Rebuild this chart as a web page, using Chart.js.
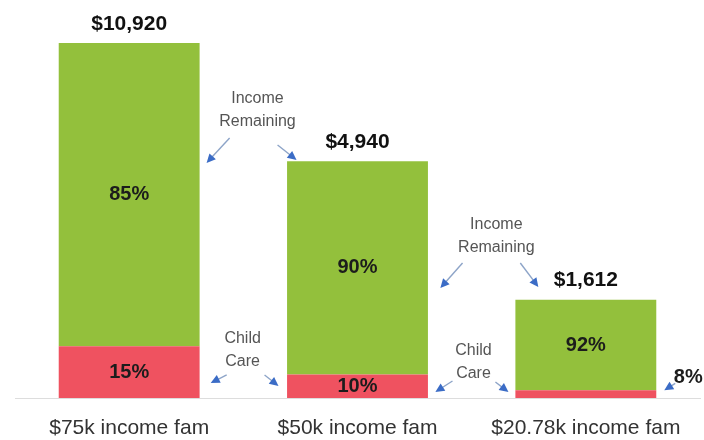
<!DOCTYPE html>
<html>
<head>
<meta charset="utf-8">
<script src="https://cdn.jsdelivr.net/npm/chart.js@4.4.0/dist/chart.umd.min.js"></script>
<style>
  html, body { margin: 0; padding: 0; background: #fff; }
  #wrap { width: 704px; height: 440px; }
</style>
</head>
<body>
<div id="wrap"><canvas id="careChart" width="704" height="440"></canvas></div>
<script>
// families and their yearly money split (dollars)
var families = ['$75k income fam', '$50k income fam', '$20.78k income fam'];
var childCare = [10920, 4940, 1612];
var incomeRemaining = [64080, 45060, 19168];

var GREEN = '#93c03c';
var RED = '#ef5260';
var ARROW = '#3b6cc6';

// callouts, placed in axis units (x = category index, y = dollars)
var callouts = [
    { lines: ['Income', 'Remaining'], x: 0.562, y: 60850,
      arrows: [[0.440, 54940, 0.339, 49650], [0.650, 53460, 0.733, 50290]] },
    { lines: ['Income', 'Remaining'], x: 1.608, y: 34230,
      arrows: [[1.460, 28530, 1.363, 23240], [1.713, 28530, 1.792, 23450]] },
    { lines: ['Child', 'Care'], x: 0.497, y: 10140,
      arrows: [[0.427, 4860, 0.357, 3170], [0.593, 4860, 0.654, 2540]] },
    { lines: ['Child', 'Care'], x: 1.508, y: 7610,
      arrows: [[1.416, 3590, 1.341, 1270], [1.604, 3380, 1.661, 1270]] }
];

function arrow(ctx, x1, y1, x2, y2) {
    var ang = Math.atan2(y2 - y1, x2 - x1);
    var hl = 10;
    ctx.save();
    ctx.strokeStyle = '#8da4c8';
    ctx.lineWidth = 1.4;
    ctx.beginPath();
    ctx.moveTo(x1, y1);
    ctx.lineTo(x2 - Math.cos(ang) * hl * 0.6, y2 - Math.sin(ang) * hl * 0.6);
    ctx.stroke();
    ctx.fillStyle = ARROW;
    ctx.beginPath();
    ctx.moveTo(x2, y2);
    ctx.lineTo(x2 - hl * Math.cos(ang - 0.45), y2 - hl * Math.sin(ang - 0.45));
    ctx.lineTo(x2 - hl * Math.cos(ang + 0.45), y2 - hl * Math.sin(ang + 0.45));
    ctx.closePath();
    ctx.fill();
    ctx.restore();
}

var labelsPlugin = {
    id: 'barLabels',
    afterDatasetsDraw: function (chart) {
        var ctx = chart.ctx;
        var xs = chart.scales.x, ys = chart.scales.y;
        var careMeta = chart.getDatasetMeta(0);
        var restMeta = chart.getDatasetMeta(1);
        ctx.save();
        ctx.textAlign = 'center';
        ctx.textBaseline = 'middle';
        families.forEach(function (f, i) {
            var total = childCare[i] + incomeRemaining[i];
            var carePct = Math.round(childCare[i] / total * 100);
            var restPct = Math.round(incomeRemaining[i] / total * 100);
            var care = careMeta.data[i], rest = restMeta.data[i];

            ctx.fillStyle = '#1c1c1c';
            ctx.font = 'bold 20px "Liberation Sans", Arial, sans-serif';
            ctx.fillText(restPct + '%', rest.x, (rest.y + rest.base) / 2);

            var segH = care.base - care.y;
            if (segH > 20) {
                ctx.fillText(carePct + '%', care.x, (care.y + care.base) / 2);
            } else {
                // too thin to hold its label: put it beside the bar
                var right = care.x + care.width / 2;
                ctx.fillText(carePct + '%', right + 32, care.y - 13);
                arrow(ctx, right + 19, care.y - 7, right + 8, care.y);
            }

            // child care cost above each bar
            ctx.fillStyle = '#111';
            ctx.font = 'bold 21px "Liberation Sans", Arial, sans-serif';
            ctx.fillText('$' + childCare[i].toLocaleString('en-US'), rest.x, rest.y - 19);
        });

        ctx.font = '16px "Liberation Sans", Arial, sans-serif';
        ctx.fillStyle = '#555';
        callouts.forEach(function (c) {
            var cx = xs.getPixelForValue(c.x), cy = ys.getPixelForValue(c.y);
            c.lines.forEach(function (t, k) {
                ctx.fillText(t, cx, cy + (k - (c.lines.length - 1) / 2) * 23);
            });
            c.arrows.forEach(function (a) {
                arrow(ctx, xs.getPixelForValue(a[0]), ys.getPixelForValue(a[1]),
                      xs.getPixelForValue(a[2]), ys.getPixelForValue(a[3]));
            });
        });
        ctx.restore();
    }
};

var careChart = new Chart(document.getElementById('careChart'), {
    type: 'bar',
    data: {
        labels: families,
        datasets: [
            { label: 'Child Care', data: childCare, backgroundColor: RED,
              categoryPercentage: 1, barPercentage: 0.617 },
            { label: 'Income Remaining', data: incomeRemaining, backgroundColor: GREEN,
              categoryPercentage: 1, barPercentage: 0.617 }
        ]
    },
    options: {
        responsive: false,
        animation: false,
        layout: { padding: { left: 15, right: 4, top: 43, bottom: 0 } },
        plugins: { legend: { display: false }, tooltip: { enabled: false } },
        scales: {
            x: {
                stacked: true,
                grid: { display: false },
                border: { display: true, color: '#dddddd', width: 1 },
                ticks: {
                    color: '#333',
                    padding: 10,
                    maxRotation: 0,
                    font: { family: '"Liberation Sans", Arial, sans-serif', size: 21 }
                },
                afterFit: function (scale) { scale.height = 42; }
            },
            y: {
                stacked: true,
                display: false,
                min: 0,
                max: 75000
            }
        }
    },
    plugins: [labelsPlugin]
});
</script>
</body>
</html>
